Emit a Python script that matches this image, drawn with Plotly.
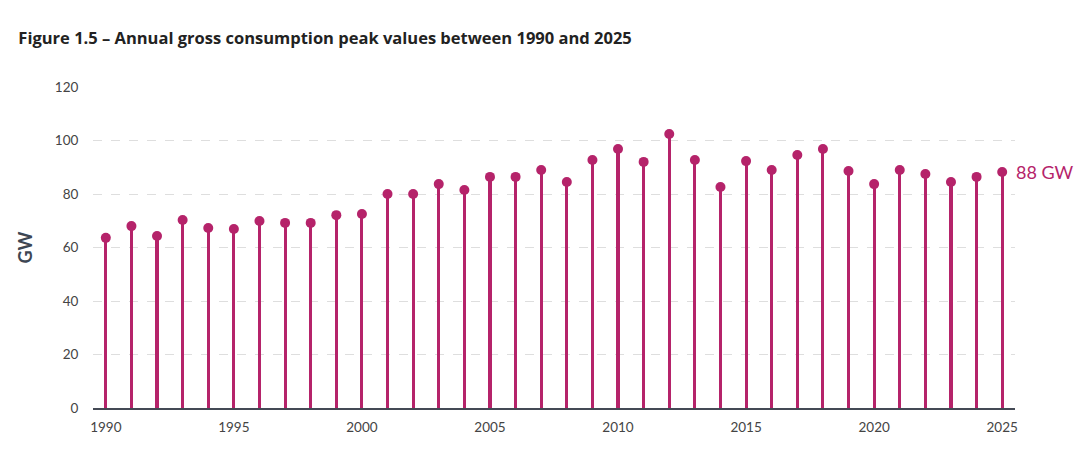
import plotly.graph_objects as go

years = list(range(1990, 2026))
peak_gw = [63.6, 68.0, 64.3, 70.3, 67.3, 66.9, 69.9, 69.2, 69.2, 72.1,
           72.5, 80.0, 80.0, 83.7, 81.5, 86.4, 86.4, 89.0, 84.5, 92.7,
           96.8, 92.0, 102.4, 92.7, 82.6, 92.3, 89.0, 94.6, 96.8, 88.6,
           83.7, 89.0, 87.5, 84.5, 86.4, 88.2]
x_ticks = [1990, 1995, 2000, 2005, 2010, 2015, 2020, 2025]
y_ticks = [0, 20, 40, 60, 80, 100, 120]
title_text = "Figure 1.5 – Annual gross consumption peak values between 1990 and 2025"
last_label = "88 GW"

color = "#B5236A"

fig = go.Figure()
fig.add_trace(go.Bar(x=years, y=peak_gw, width=0.12, marker=dict(color=color, line=dict(width=0)),
                     hoverinfo="skip", showlegend=False))
fig.add_trace(go.Scatter(x=years, y=peak_gw, mode="markers",
                         marker=dict(color=color, size=10), showlegend=False))

fig.add_annotation(x=years[-1], y=peak_gw[-1], text=last_label, xanchor="left", yanchor="middle",
                   xshift=12, showarrow=False, font=dict(family="Lato, Noto Sans", size=18, color=color))

fig.update_layout(
    width=1090, height=467,
    margin=dict(l=85, r=83, t=79, b=67),
    paper_bgcolor="white", plot_bgcolor="white",
    title=dict(text="<b>" + title_text + "</b>", x=0.0095, xanchor="left", y=0.936, yanchor="middle",
               font=dict(family="Open Sans", size=16.5, color="#222222")),
    xaxis=dict(range=[1989.5, 2025.5], tickvals=x_ticks, showgrid=False, zeroline=False,
               showline=True, linecolor="#444a55", linewidth=1.5,
               tickfont=dict(family="Lato, Noto Sans", size=13.5, color="#444444"),
               ticks="outside", ticklen=6, tickcolor="rgba(0,0,0,0)"),
    yaxis=dict(range=[0, 120], tickvals=y_ticks, showgrid=True, gridcolor="#dedede", griddash="dash",
               gridwidth=1, zeroline=False, showline=False,
               tickfont=dict(family="Lato, Noto Sans", size=13.5, color="#444444"),
               ticks="outside", ticklen=11, tickcolor="rgba(0,0,0,0)",
               title=dict(text="<b>GW</b>", standoff=17,
                          font=dict(family="Lato, Noto Sans", size=18, color="#3d4653"))),
    bargap=0,
)

fig.write_html("out.html")
